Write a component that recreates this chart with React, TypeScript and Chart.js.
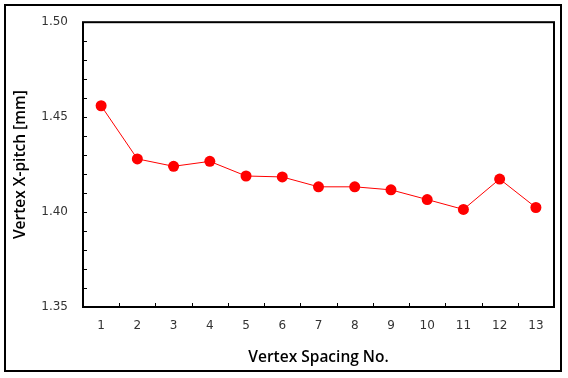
import React, { useEffect, useRef } from "react";
import { Chart, registerables } from "chart.js";

Chart.register(...registerables);

const categories = ["1", "2", "3", "4", "5", "6", "7", "8", "9", "10", "11", "12", "13"];
const pitchValues = [1.456, 1.428, 1.4241, 1.4267, 1.419, 1.4185, 1.4133, 1.4133, 1.4117, 1.4066, 1.4014, 1.4174, 1.4024];
const yMin = 1.35;
const yMax = 1.5;
const yMajorStep = 0.05;
const yMinorStep = 0.01;

const framePlugin = {
  id: "framePlugin",
  afterDraw(chart: any) {
    const { ctx, chartArea: a, scales } = chart;
    ctx.save();
    ctx.strokeStyle = "#000";
    ctx.lineWidth = 1;
    ctx.beginPath();
    const ys = scales.y;
    const nSteps = Math.round((yMax - yMin) / yMinorStep);
    for (let i = 1; i < nSteps; i++) {
      const v = yMin + i * yMinorStep;
      const py = Math.round(ys.getPixelForValue(v)) + 0.5;
      ctx.moveTo(a.left, py);
      ctx.lineTo(a.left + 4, py);
    }
    const xs = scales.x;
    for (let i = 0; i < categories.length - 1; i++) {
      const px = Math.round((xs.getPixelForValue(i) + xs.getPixelForValue(i + 1)) / 2) + 0.5;
      ctx.moveTo(px, a.bottom);
      ctx.lineTo(px, a.bottom - 4);
    }
    ctx.stroke();
    ctx.lineWidth = 2;
    ctx.strokeRect(a.left, a.top, a.right - a.left, a.bottom - a.top);
    ctx.lineWidth = 2;
    ctx.strokeRect(5, 5, 556, 366);
    ctx.restore();
  },
};

export default function App() {
  const ref = useRef<HTMLCanvasElement | null>(null);
  useEffect(() => {
    document.body.style.margin = "0";
    const canvas = ref.current;
    if (!canvas) return;
    const chart = new Chart(canvas, {
      type: "line",
      data: {
        labels: categories,
        datasets: [
          {
            data: pitchValues,
            borderColor: "#ff0000",
            backgroundColor: "#ff0000",
            borderWidth: 1,
            pointRadius: 5.5,
            pointBorderWidth: 0,
            pointBackgroundColor: "#ff0000",
            tension: 0,
          },
        ],
      },
      options: {
        responsive: false,
        animation: false,
        layout: { padding: { top: 17, right: 14, left: 0, bottom: 0 } },
        plugins: { legend: { display: false }, tooltip: { enabled: false } },
        scales: {
          x: {
            type: "category",
            offset: true,
            grid: { display: false, drawTicks: false },
            border: { display: false },
            ticks: {
              padding: 12,
              color: "#333",
              font: { family: "DejaVu Sans", size: 12 },
              maxRotation: 0,
            },
            title: {
              display: true,
              text: "Vertex Spacing No.",
              color: "#000",
              font: { family: "Open Sans", size: 15.5, weight: "600" },
              padding: { top: 4, bottom: 11 },
            },
            afterFit(scale: any) {
              scale.height = 71;
            },
          },
          y: {
            min: yMin,
            max: yMax,
            grid: { display: false, drawTicks: false },
            border: { display: false },
            ticks: {
              stepSize: yMajorStep,
              padding: 15,
              color: "#333",
              font: { family: "DejaVu Sans", size: 12 },
              callback: (v: any) => Number(v).toFixed(2),
            },
            title: {
              display: true,
              text: "Vertex X-pitch [mm]",
              color: "#000",
              font: { family: "Open Sans", size: 15.5, weight: "600" },
              padding: 11,
            },
            afterFit(scale: any) {
              scale.width = 83;
            },
          },
        },
      },
      plugins: [framePlugin],
    });
    return () => chart.destroy();
  }, []);
  return (
    <div style={{ position: "absolute", left: 0, top: 0, width: 568, height: 378, background: "#fff" }}>
      <canvas ref={ref} width={568} height={378} />
    </div>
  );
}
